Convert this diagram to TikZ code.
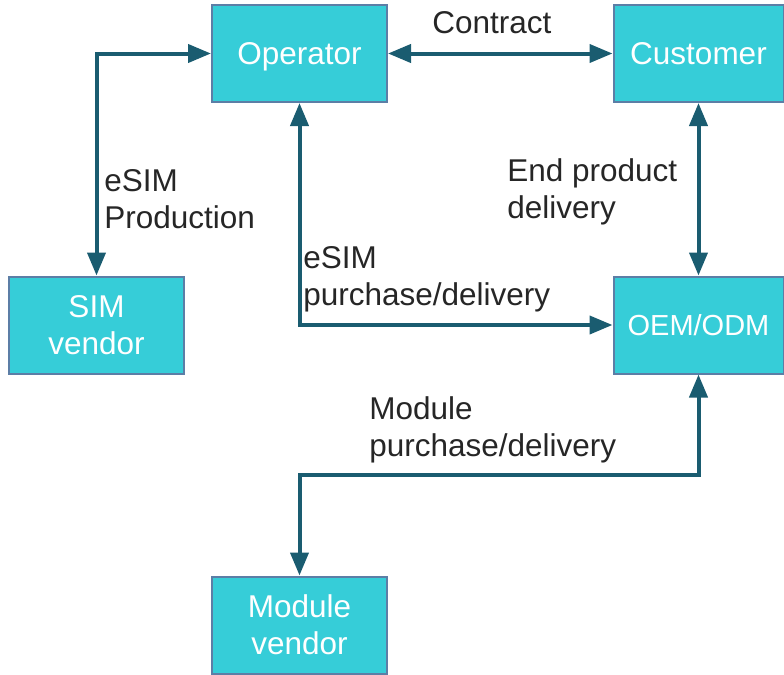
\documentclass[tikz,border=0pt]{standalone}
\usepackage{fontspec}
\setmainfont{Liberation Sans}
\usetikzlibrary{arrows.meta}
\definecolor{boxfill}{RGB}{54,205,216}
\definecolor{boxline}{RGB}{92,126,166}
\definecolor{linkcol}{RGB}{26,92,112}
\definecolor{labelcol}{RGB}{38,38,38}
\tikzstyle{party} = [rectangle, minimum width=87.5pt, minimum height=48.5pt, align=center, text=white, draw=boxline, line width=1pt, fill=boxfill]
\tikzstyle{arrow} = [line width=2pt,<->,>={Triangle[length=11.5pt,width=9pt]},draw=linkcol]
\tikzstyle{flowtext} = [inner sep=0, align=left, text=labelcol, anchor=north west]

\begin{document}
\begin{tikzpicture}[x=0.5pt,y=-0.5pt,font=\fontsize{15.75}{18.5}\selectfont]
\useasboundingbox (0,0) rectangle (784,675);

\node[party,text depth=0pt] (op) at (299.5,53.5) {Operator};
\node[party,minimum width=85pt] (cust) at (698.5,53.5) {Customer};
\node[party] (simv) at (96.5,325) {SIM\\vendor};
\node[party,minimum width=85pt,font=\fontsize{14.5}{17}\selectfont,text depth=0pt] (oem) at (698.5,325) {OEM/ODM};
\node[party] (modv) at (299.5,625) {Module\\vendor};

\draw[arrow] (simv.north) |- (op.west);
\draw[arrow] (op.east) -- (cust.west);
\draw[arrow] (op.south) |- (oem.west);
\draw[arrow] (cust.south) -- (oem.north);
\draw[arrow] (modv.north) -- ++(0,-101) -| (oem.south);

\node[flowtext,anchor=base west] (contract) at (432,33) {Contract};
\node[flowtext] (prod) at (104,169) {eSIM\\Production};
\node[flowtext] (endprod) at (507,158) {End product\\delivery};
\node[flowtext] (esimbuy) at (303,246) {eSIM\\purchase/delivery};
\node[flowtext] (modbuy) at (369,396) {Module\\purchase/delivery};
\end{tikzpicture}
\end{document}
